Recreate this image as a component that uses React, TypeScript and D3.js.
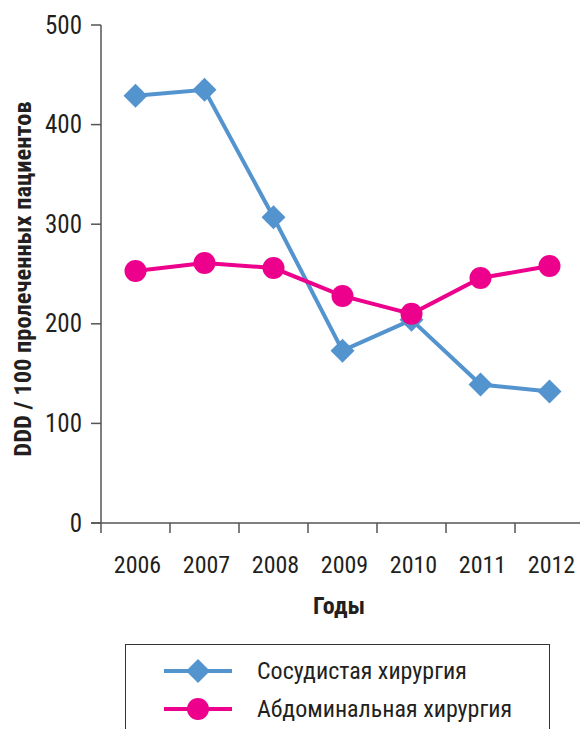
import React from 'react';
import * as d3 from 'd3';

const years = ['2006', '2007', '2008', '2009', '2010', '2011', '2012'];
const vascular = [429, 435, 307, 173, 204, 139, 132];
const abdominal = [253, 261, 256, 228, 210, 246, 258];
const yTicks = [0, 100, 200, 300, 400, 500];

const blue = '#5394cf';
const pink = '#ec008c';
const axisColor = '#555';
const font = '"Liberation Sans Narrow", "Roboto Condensed", "Arial Narrow", Roboto, sans-serif';

const width = 580;
const height = 729;
const left = 101;
const top = 25;
const bottom = 523;

export default function App() {
  const x = d3.scaleBand().domain(years).range([left, left + 69 * years.length]);
  const y = d3.scaleLinear().domain([0, 500]).range([bottom, top]);
  const cx = (d: string) => (x(d) ?? 0) + x.bandwidth() / 2;

  const line = d3.line<number>()
    .x((_, i) => cx(years[i]))
    .y(d => y(d));

  const diamond = (px: number, py: number, r = 12) =>
    `M${px},${py - r}L${px + r},${py}L${px},${py + r}L${px - r},${py}Z`;

  const tickEdges = years.map(d => x(d) ?? 0);

  return (
    <svg width={width} height={height} style={{ position: 'absolute', left: 0, top: 0, background: '#fff' }}
      fontFamily={font}>
      {/* y axis */}
      <line x1={left} x2={left} y1={top} y2={bottom} stroke={axisColor} strokeWidth={1.5} />
      {yTicks.map(t => (
        <g key={t}>
          <line x1={left - 10} x2={left} y1={y(t)} y2={y(t)} stroke={axisColor} strokeWidth={1.5} />
          <text x={82} y={y(t)} textAnchor="end" dominantBaseline="central" fontSize={25} fill="#231f20">{t}</text>
        </g>
      ))}
      {/* x axis */}
      <line x1={left - 10} x2={width} y1={bottom} y2={bottom} stroke={axisColor} strokeWidth={1.5} />
      {tickEdges.map((t, i) => (
        <line key={i} x1={t} x2={t} y1={bottom} y2={bottom + 10} stroke={axisColor} strokeWidth={1.5} />
      ))}
      {years.map(d => (
        <text key={d} x={cx(d) + 2} y={565} textAnchor="middle" dominantBaseline="central" fontSize={24} fill="#231f20">{d}</text>
      ))}
      <text x={339} y={606} textAnchor="middle" dominantBaseline="central" fontSize={24} fontWeight="bold" fill="#231f20">Годы</text>
      <text transform={`translate(22, 279) rotate(-90)`} textAnchor="middle" dominantBaseline="central"
        fontSize={24.5} fontWeight="bold" fill="#231f20">DDD / 100 пролеченных пациентов</text>

      {/* series */}
      <path d={line(vascular) ?? ''} fill="none" stroke={blue} strokeWidth={4} />
      {vascular.map((v, i) => (
        <path key={i} d={diamond(cx(years[i]), y(v))} fill={blue} />
      ))}
      <path d={line(abdominal) ?? ''} fill="none" stroke={pink} strokeWidth={4} />
      {abdominal.map((v, i) => (
        <circle key={i} cx={cx(years[i])} cy={y(v)} r={11} fill={pink} />
      ))}

      {/* legend */}
      <rect x={125.5} y={644.5} width={424} height={100} fill="none" stroke="#333" strokeWidth={1} />
      <line x1={164} x2={232} y1={671} y2={671} stroke={blue} strokeWidth={4} />
      <path d={diamond(198, 671)} fill={blue} />
      <text x={257} y={671} dominantBaseline="central" fontSize={24} fill="#231f20">Сосудистая хирургия</text>
      <line x1={164} x2={232} y1={709} y2={709} stroke={pink} strokeWidth={4} />
      <circle cx={198} cy={709} r={11} fill={pink} />
      <text x={257} y={709} dominantBaseline="central" fontSize={24} fill="#231f20">Абдоминальная хирургия</text>
    </svg>
  );
}
